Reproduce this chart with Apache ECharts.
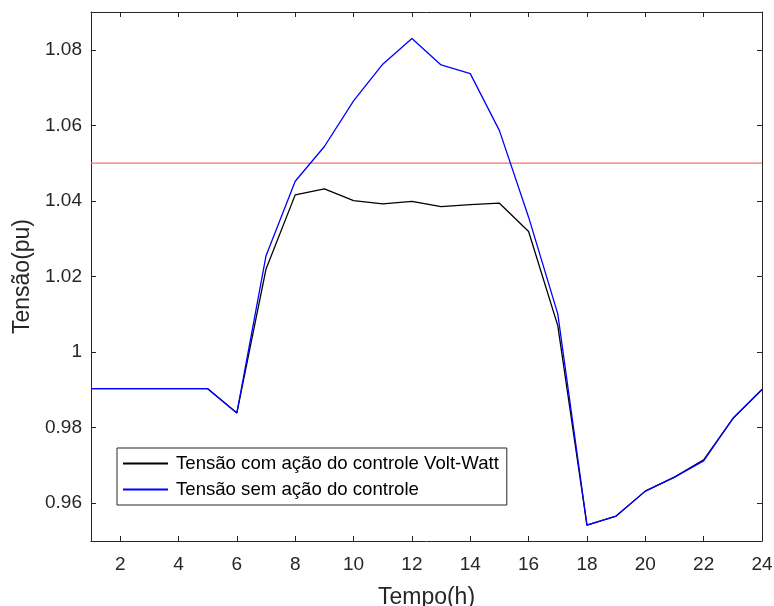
<!DOCTYPE html>
<html>
<head>
<meta charset="utf-8">
<title>Tensão</title>
<script src="https://cdn.jsdelivr.net/npm/echarts@6/dist/echarts.min.js"></script>
<style>
  html, body { margin: 0; padding: 0; background: #fff; }
  #chart { width: 774px; height: 606px; }
</style>
</head>
<body>
<div id="chart"></div>
<script>
// hours 1..24
var hours = [1,2,3,4,5,6,7,8,9,10,11,12,13,14,15,16,17,18,19,20,21,22,23,24];
// with Volt-Watt control
var comControle = [0.9903,0.9903,0.9903,0.9903,0.9903,0.9839,1.0220,1.0416,1.0432,1.0401,1.0392,1.0399,
                   1.0385,1.0390,1.0394,1.0319,1.0070,0.9542,0.9566,0.9632,0.9669,0.9715,0.9824,0.9901];
// without control
var semControle = [0.9903,0.9903,0.9903,0.9903,0.9903,0.9839,1.0255,1.0452,1.0544,1.0665,1.0762,1.0830,
                   1.0760,1.0737,1.0586,1.0357,1.0101,0.9542,0.9566,0.9632,0.9669,0.9712,0.9824,0.9901];
// voltage limit line
var limiteX = [1, 24];
var limite = [1.05, 1.05];
var xTicks = [2,4,6,8,10,12,14,16,18,20,22,24];
var yTicks = [0.96,0.98,1.00,1.02,1.04,1.06,1.08];

var chart = echarts.init(document.getElementById('chart'));

function pairs(xs, ys) {
  return xs.map(function (x, i) { return [x, ys[i]]; });
}

var axisColor = '#262626';
var font = 'Liberation Sans, Arial, sans-serif';

chart.setOption({
  animation: false,
  textStyle: { fontFamily: font },
  grid: { left: 91, right: 12, top: 12, bottom: 65, containLabel: false, outerBoundsMode: 'none' },
  legend: {
    left: 117, top: 448,
    orient: 'vertical',
    borderColor: axisColor, borderWidth: 1, borderRadius: 0,
    padding: [6, 8, 6, 5],
    itemWidth: 45, itemHeight: 18, itemGap: 7,
    itemStyle: { opacity: 0, borderWidth: 0 },
    textStyle: { fontSize: 18.6, color: '#000', fontFamily: font, padding: [0, 0, 0, 3] },
    data: ['Tensão com ação do controle Volt-Watt', 'Tensão sem ação do controle']
  },
  xAxis: [{
    type: 'value', min: 1, max: 24,
    name: 'Tempo(h)', nameLocation: 'middle', nameGap: 45,
    nameTextStyle: { fontSize: 23, color: axisColor },
    axisLine: { lineStyle: { color: axisColor } },
    axisTick: { inside: true, length: 5, customValues: xTicks, lineStyle: { color: axisColor } },
    axisLabel: { customValues: xTicks, fontSize: 19, color: axisColor, margin: 14 },
    splitLine: { show: false }
  }, {
    type: 'value', min: 1, max: 24, position: 'top',
    axisLine: { lineStyle: { color: axisColor } },
    axisTick: { inside: true, length: 5, customValues: xTicks, lineStyle: { color: axisColor } },
    axisLabel: { show: false },
    splitLine: { show: false }
  }],
  yAxis: [{
    type: 'value', min: 0.95, max: 1.09,
    name: 'Tensão(pu)', nameLocation: 'middle', nameGap: 56,
    nameTextStyle: { fontSize: 23, color: axisColor },
    axisLine: { show: true, lineStyle: { color: axisColor } },
    axisTick: { show: true, inside: true, length: 5, customValues: yTicks, lineStyle: { color: axisColor } },
    axisLabel: {
      customValues: yTicks, fontSize: 19, color: axisColor, margin: 9,
      formatter: function (v) { return String(+v.toFixed(2)); }
    },
    splitLine: { show: false }
  }, {
    type: 'value', min: 0.95, max: 1.09, position: 'right',
    axisLine: { show: true, lineStyle: { color: axisColor } },
    axisTick: { show: true, inside: true, length: 5, customValues: yTicks, lineStyle: { color: axisColor } },
    axisLabel: { show: false },
    splitLine: { show: false }
  }],
  series: [{
    name: 'Limite',
    type: 'line', symbol: 'none', silent: true,
    lineStyle: { color: '#ff6e6e', width: 1.2 },
    itemStyle: { color: '#ff6e6e' },
    data: pairs(limiteX, limite)
  }, {
    name: 'Tensão com ação do controle Volt-Watt',
    type: 'line', symbol: 'none',
    lineStyle: { color: '#000', width: 1.3 },
    itemStyle: { color: '#000' },
    data: pairs(hours, comControle)
  }, {
    name: 'Tensão sem ação do controle',
    type: 'line', symbol: 'none',
    lineStyle: { color: '#0000ff', width: 1.3 },
    itemStyle: { color: '#0000ff' },
    data: pairs(hours, semControle)
  }]
});
</script>
</body>
</html>
